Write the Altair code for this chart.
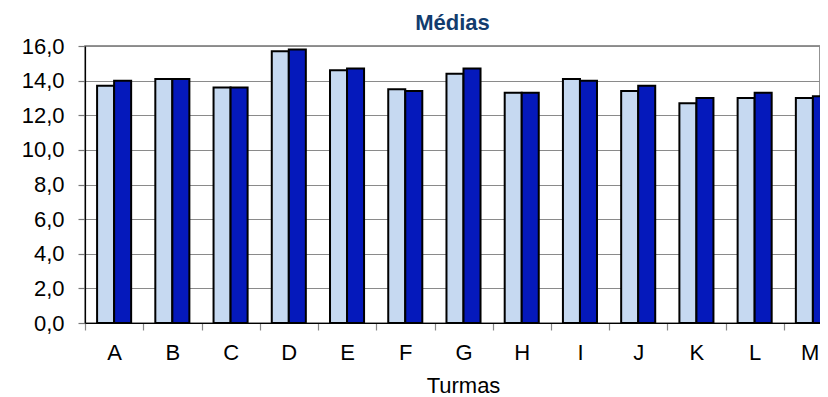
import altair as alt
import pandas as pd

turmas = ["A", "B", "C", "D", "E", "F", "G", "H", "I", "J", "K", "L", "M"]
serie1 = [13.7, 14.1, 13.6, 15.7, 14.6, 13.5, 14.4, 13.3, 14.1, 13.4, 12.7, 13.0, 13.0]
serie2 = [14.0, 14.1, 13.6, 15.8, 14.7, 13.4, 14.7, 13.3, 14.0, 13.7, 13.0, 13.3, 13.1]
series = ["S1", "S2"]
colors = ["#C6D9F1", "#0519BB"]

rows = []
for i, t in enumerate(turmas):
    rows.append({"Turma": t, "Serie": series[0], "Valor": serie1[i]})
    rows.append({"Turma": t, "Serie": series[1], "Valor": serie2[i]})
df = pd.DataFrame(rows)

last_test = "datum.value == '%s'" % turmas[-1]

chart = alt.Chart(df).mark_bar(stroke="black", strokeWidth=2).encode(
    x=alt.X("Turma:N", sort=turmas,
            scale=alt.Scale(domain=turmas, paddingInner=0, paddingOuter=0, range=[0, 757]),
            axis=alt.Axis(title="Turmas", labelAngle=0, tickOffset=-29,
                          labelOffset={"condition": {"test": last_test, "value": 35}, "value": 29},
                          labelAlign={"condition": {"test": last_test, "value": "right"}, "value": "center"},
                          labelFontSize=22, labelFont="Liberation Sans", labelColor="black",
                          labelBaseline="alphabetic", labelPadding=29,
                          tickSize=7, tickColor="#888888", tickWidth=1.2,
                          domainColor="black", domainWidth=1.2, grid=False,
                          titleFontSize=22, titleFont="Liberation Sans", titleFontWeight="normal",
                          titleColor="black", titleBaseline="alphabetic", titleY=69,
                          titleX=378)),
    xOffset=alt.XOffset("Serie:N", sort=series,
                        scale=alt.Scale(domain=series, paddingInner=0, paddingOuter=0.71)),
    y=alt.Y("Valor:Q",
            scale=alt.Scale(domain=[0, 16], nice=False),
            axis=alt.Axis(title=None, values=[0, 2, 4, 6, 8, 10, 12, 14, 16],
                          labelExpr="replace(format(datum.value, '.1f'), '.', ',')",
                          labelFontSize=22, labelFont="Liberation Sans", labelColor="black",
                          labelPadding=14, tickSize=7, tickColor="#777777", tickWidth=1.2,
                          domainColor="black", domainWidth=1.2,
                          grid=True, gridColor="#8a8a8a", gridWidth=1.2)),
    color=alt.Color("Serie:N", scale=alt.Scale(domain=series, range=colors), legend=None),
).properties(
    width=735, height=277,
    title=alt.TitleParams("Médias", fontSize=22, font="Liberation Sans", fontWeight="bold",
                          color="#123C6E", offset=0, anchor="middle", frame="group"),
    autosize=alt.AutoSizeParams(type="none"),
    padding={"left": 77, "top": 38, "right": 0, "bottom": 74},
).configure_view(stroke="#707070", strokeWidth=1.5)

chart.save("out.html", embed_options={"renderer": "svg", "actions": False})
